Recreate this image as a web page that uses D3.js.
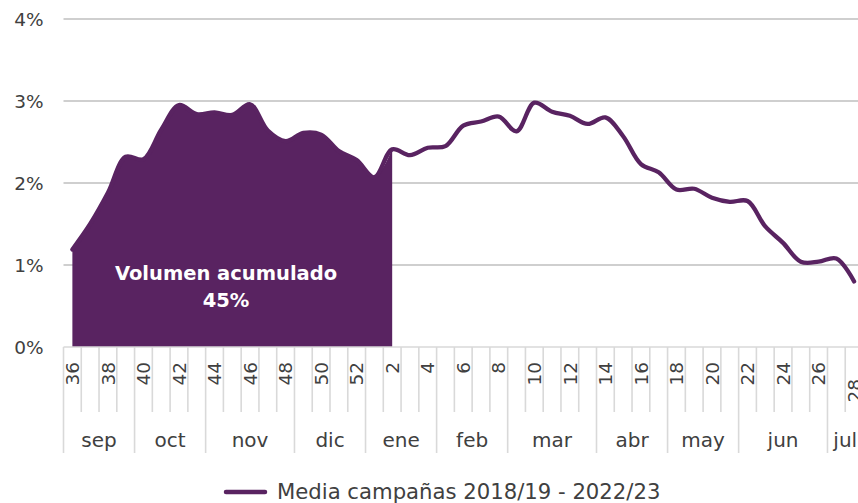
<!DOCTYPE html>
<html>
<head>
<meta charset="utf-8">
<script src="https://cdn.jsdelivr.net/npm/d3@7/dist/d3.min.js"></script>
<style>
  html, body { margin: 0; padding: 0; background: #ffffff; }
  svg { display: block; }
  text { font-family: "Century Gothic", "DejaVu Sans", sans-serif; }
</style>
</head>
<body>
<svg id="chart" width="858" height="503"></svg>
<script>
// ---- Data ----
const weeks = [36,37,38,39,40,41,42,43,44,45,46,47,48,49,50,51,52,
               1,2,3,4,5,6,7,8,9,10,11,12,13,14,15,16,17,18,19,20,21,22,23,24,25,26,27,28];
const values = [1.19,1.50,1.88,2.32,2.29,2.65,2.95,2.84,2.86,2.83,2.96,2.64,2.51,2.61,2.59,2.39,2.28,
                2.07,2.41,2.34,2.43,2.45,2.70,2.75,2.81,2.63,2.98,2.87,2.82,2.72,2.80,2.57,2.23,2.13,
                1.92,1.93,1.82,1.77,1.78,1.47,1.27,1.04,1.04,1.08,0.80];
const months = ["sep","oct","nov","dic","ene","feb","mar","abr","may","jun","jul"];
const monthWeeks = [4,4,5,4,4,4,5,4,4,5,2];
const yTicks = [0,1,2,3,4];
const accumulatedUntilWeek = 2;          // filled area up to week 2
const annotation = ["Volumen acumulado", "45%"];
const legendLabel = "Media campañas 2018/19 - 2022/23";

// ---- Layout ----
const W = 858, H = 503;
const mLeft = 63.5, mRight = 863, mTop = 19, mBottom = 347;
const purple = "#592361";
const svg = d3.select("#chart");

const x = d3.scaleBand().domain(d3.range(weeks.length)).range([mLeft, mRight]).paddingInner(0).paddingOuter(0);
const y = d3.scaleLinear().domain([0, 4]).range([mBottom, mTop]);
const cx = i => x(i) + x.bandwidth() / 2;

// gridlines
svg.append("g").selectAll("line").data(yTicks.filter(t => t > 0)).join("line")
  .attr("x1", mLeft).attr("x2", mRight)
  .attr("y1", d => y(d)).attr("y2", d => y(d))
  .attr("stroke", "#bfbfbf").attr("stroke-width", 1.6);

// y axis labels
const yAxis = d3.axisLeft(y).tickValues(yTicks).tickFormat(d => d + "%").tickSize(0).tickPadding(20);
const gy = svg.append("g").attr("transform", `translate(${mLeft},0)`).call(yAxis);
gy.select(".domain").remove();
gy.selectAll("text").attr("font-size", 18.5).attr("fill", "#404040")
  .attr("font-family", "'Century Gothic','DejaVu Sans',sans-serif").attr("dy", "0.36em");

// area (accumulated)
const lastIdx = weeks.indexOf(accumulatedUntilWeek);
const curve = d3.curveCatmullRom.alpha(0.5);
const area = d3.area().x((d, i) => cx(i)).y0(y(0)).y1(d => y(d)).curve(curve);
svg.append("path").datum(values.slice(0, lastIdx + 1))
  .attr("d", area).attr("fill", purple);

// line
const line = d3.line().x((d, i) => cx(i)).y(d => y(d)).curve(curve);
svg.append("path").datum(values)
  .attr("d", line).attr("fill", "none").attr("stroke", purple)
  .attr("stroke-width", 4.3).attr("stroke-linejoin", "round").attr("stroke-linecap", "round");

// x axis base line
svg.append("line").attr("x1", mLeft).attr("x2", mRight).attr("y1", y(0)).attr("y2", y(0))
  .attr("stroke", "#d9d9d9").attr("stroke-width", 1.6);

// month boundaries
const boundaries = [0];
monthWeeks.forEach(n => boundaries.push(boundaries[boundaries.length - 1] + n));
const boundarySet = new Set(boundaries);

// week tick lines
svg.append("g").selectAll("line").data(d3.range(weeks.length + 1)).join("line")
  .attr("x1", i => mLeft + i * x.bandwidth()).attr("x2", i => mLeft + i * x.bandwidth())
  .attr("y1", y(0)).attr("y2", i => boundarySet.has(i) ? 453 : 412)
  .attr("stroke", "#d9d9d9").attr("stroke-width", 1.6);

// week labels (every other week)
svg.append("g").selectAll("text").data(weeks.map((w, i) => ({ w, i })).filter(d => d.i % 2 === 0)).join("text")
  .attr("transform", d => {
    const shift = (cx(d.i) + 8 > W) ? 17 : 0;   // clipped label is pushed down
    return `translate(${cx(d.i)},${362 + shift}) rotate(-90)`;
  })
  .attr("text-anchor", "end").attr("dy", "0.36em")
  .attr("font-size", 18.5).attr("fill", "#404040")
  .text(d => d.w);

// month labels
svg.append("g").selectAll("text").data(months).join("text")
  .attr("x", (m, k) => mLeft + (boundaries[k] + boundaries[k + 1]) / 2 * x.bandwidth())
  .attr("y", 447)
  .attr("text-anchor", "middle").attr("font-size", 20).attr("fill", "#404040")
  .text(d => d);

// annotation
const ann = svg.append("text").attr("text-anchor", "middle").attr("fill", "#ffffff")
  .attr("font-weight", "bold").attr("font-size", 19.5);
ann.append("tspan").attr("x", 226).attr("y", 280).text(annotation[0]);
ann.append("tspan").attr("x", 226).attr("y", 307).text(annotation[1]);

// legend
svg.append("line").attr("x1", 226).attr("x2", 265).attr("y1", 492).attr("y2", 492)
  .attr("stroke", purple).attr("stroke-width", 4.5).attr("stroke-linecap", "round");
svg.append("text").attr("x", 277).attr("y", 498.5).attr("font-size", 21.2).attr("fill", "#404040")
  .text(legendLabel);
</script>
</body>
</html>
